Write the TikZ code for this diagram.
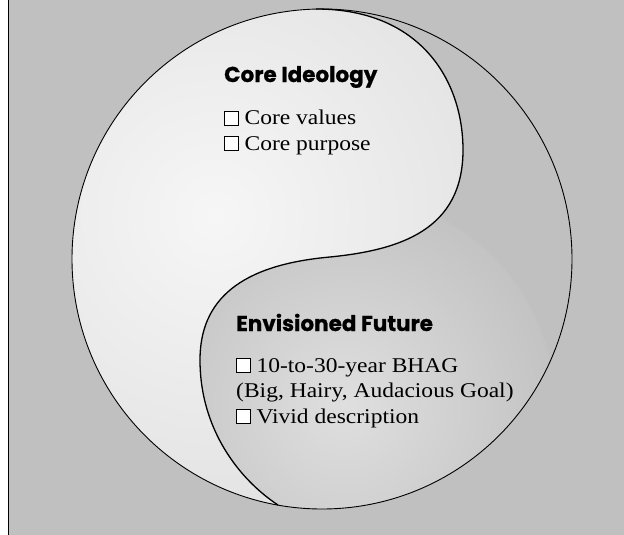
\documentclass[tikz,border=0pt]{standalone}
\usepackage{fontspec}
\setmainfont{Liberation Serif}[FakeStretch=1.12]
\newfontfamily\headfont{Poppins}[BoldFeatures={FakeBold=0.8}]
\pgfdeclarelayer{bg}
\pgfsetlayers{bg,main}
\definecolor{panel}{gray}{0.753}
\definecolor{lightlobe}{gray}{0.965}
\definecolor{lightedge}{gray}{0.89}
\definecolor{darklobe}{gray}{0.875}
\definecolor{darkedge}{gray}{0.765}
\tikzset{heading/.style={anchor=base west, inner sep=0pt, font=\headfont\bfseries\fontsize{21.5}{25}\selectfont},
  itemlist/.style={anchor=base west, inner sep=0pt, align=left, font=\fontsize{21}{25.5}\selectfont},
  rim/.style={draw=black, line width=0.9pt},
  swirl/.style={draw=black, line width=1.3pt}}
\newcommand\chkbox{{\setlength\fboxsep{0pt}\setlength\fboxrule{0.5pt}\fcolorbox{black}{white}{\rule{13.5pt}{0pt}\rule{0pt}{13.5pt}}}}

\begin{document}
\begin{tikzpicture}[x=1pt, y=-1pt]
    \useasboundingbox (0,0) rectangle (624,535);

    \coordinate (c) at (322,259);
    \coordinate (s0) at (316,9);
    \coordinate (s1) at (463,150);
    \coordinate (s2) at (330,257);
    \coordinate (s3) at (200,360);
    \coordinate (s4) at (278,505);

    \begin{pgfonlayer}{bg}
        \fill[panel] (8,0) rectangle (624,535);
        \draw[line width=1.6pt] (8.5,0) -- (8.5,535);
        \begin{scope}
            \clip (c) circle [radius=250pt];
            \shade[inner color=darklobe, outer color=darkedge] (345,405) circle [radius=210pt];
            \clip (s0) .. controls (420,9) and (463,80) .. (s1)
                .. controls (463,230) and (400,250) .. (s2)
                .. controls (240,265) and (200,300) .. (s3)
                .. controls (200,430) and (240,480) .. (s4)
                -- (278,540) -- (40,540) -- (40,-10) -- (316,-10) -- cycle;
            \shade[inner color=lightlobe, outer color=lightedge] (215,215) circle [radius=300pt];
        \end{scope}
    \end{pgfonlayer}

    \draw[rim] (c) circle [radius=250pt];
    \draw[swirl] (s0) .. controls (420,9) and (463,80) .. (s1)
        .. controls (463,230) and (400,250) .. (s2)
        .. controls (240,265) and (200,300) .. (s3)
        .. controls (200,430) and (240,480) .. (s4);

    \node (ideo) at (224,82) [heading] {Core Ideology};
    \node (ideolist) at (224,150) [itemlist] {\chkbox\ Core values\\ \chkbox\ Core purpose};

    \node (future) at (236,331) [heading] {Envisioned Future};
    \node (futurelist) at (236,423) [itemlist] {\chkbox\ 10-to-30-year BHAG\\ (Big, Hairy, Audacious Goal)\\ \chkbox\ Vivid description};
\end{tikzpicture}
\end{document}
